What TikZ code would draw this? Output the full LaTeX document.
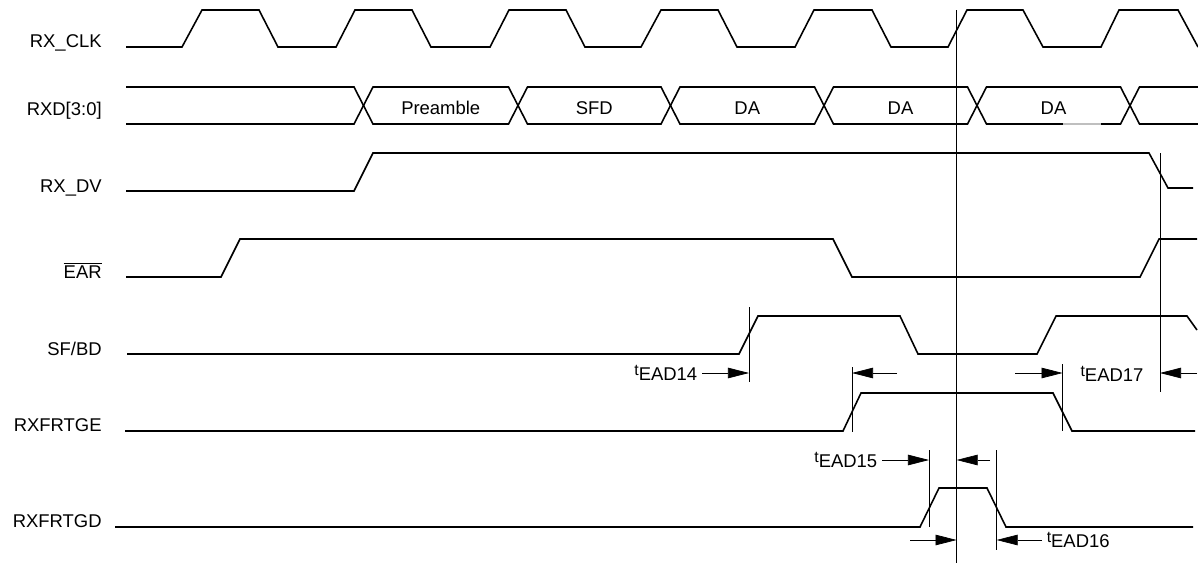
\documentclass[tikz,border=0pt]{standalone}
\usepackage{fontspec}
\setmainfont{Liberation Sans}
\usetikzlibrary{arrows.meta}

\newcommand{\tead}[1]{\raisebox{3pt}{\fontsize{9}{10}\selectfont t}EAD#1}

\begin{document}
\begin{tikzpicture}[
    % Define styles for the waveforms and the text
    x=0.02cm, y=-0.02cm,
    signal/.style={line width=0.9pt},
    marker/.style={line width=0.4pt},
    siglabel/.style={anchor=base east, inner sep=0pt, font=\fontsize{10.5}{12}\selectfont},
    buslabel/.style={inner sep=0pt, font=\fontsize{10.5}{12}\selectfont},
    timelabel/.style={inner sep=2.5pt, font=\fontsize{10.5}{12}\selectfont},
    arrow/.style={-{Triangle[length=12pt, width=6pt]}, line width=0.4pt}
]
    \useasboundingbox (0,0) rectangle (1198,565);

    % Signal names
    \node[siglabel] (clk) at (102,47) {RX\_CLK};
    \node[siglabel] (rxd) at (102,115) {RXD[3:0]};
    \node[siglabel] (dv) at (102,192) {RX\_DV};
    \node[siglabel] (ear) at (102,278) {$\overline{\mbox{EAR}}$};
    \node[siglabel] (sfbd) at (102,355) {SF/BD};
    \node[siglabel] (ge) at (102,431) {RXFRTGE};
    \node[siglabel] (gd) at (102,527) {RXFRTGD};

    % Waveforms
    \draw[signal] (126,47) -- (182,47) -- (202,10) -- (259,10) -- (278,47) -- (336,47) -- (355,10) -- (412,10) -- (431,47)
        -- (490,47) -- (509,10) -- (566,10) -- (585,47) -- (641,47) -- (661,10) -- (718,10) -- (737,47) -- (795,47)
        -- (814,10) -- (872,10) -- (891,47) -- (948,47) -- (967,10) -- (1023,10) -- (1043,47) -- (1101,47) -- (1119,10)
        -- (1178,10) -- (1198,47);

    \draw[signal] (126,87) -- (354,87) -- (373,124) -- (508.5,124) -- (527.5,87) -- (661,87) -- (680,124) -- (814.5,124)
        -- (833.5,87) -- (967.5,87) -- (986.5,124) -- (1120.5,124) -- (1139.5,87) -- (1198,87);
    \draw[signal] (126,124) -- (354,124) -- (373,87) -- (508.5,87) -- (527.5,124) -- (661,124) -- (680,87) -- (814.5,87)
        -- (833.5,124) -- (967.5,124) -- (986.5,87) -- (1120.5,87) -- (1139.5,124) -- (1198,124);
    \draw[line width=1.6pt] (1063,87) -- (1101,87);
    \draw[signal, gray!50] (1063,124) -- (1101,124);

    \node[buslabel] (pre) at (440.75,108) {Preamble};
    \node[buslabel] (sfd) at (594.25,108) {SFD};
    \node[buslabel] (da1) at (747.25,108) {DA};
    \node[buslabel] (da2) at (900.5,108) {DA};
    \node[buslabel] (da3) at (1053.5,108) {DA};

    \draw[signal] (126,191) -- (354,191) -- (373,153) -- (1149,153) -- (1168,188) -- (1193,188);

    \draw[signal] (126,277) -- (221,277) -- (240,239) -- (833,239) -- (852,277) -- (1140,277) -- (1159,239) -- (1197,239);

    \draw[signal] (127,354) -- (739,354) -- (758,316) -- (900,316) -- (918,354) -- (1037,354) -- (1056,316) -- (1187,316)
        -- (1197,330);

    \draw[signal] (125,431) -- (843,431) -- (861,393) -- (1053,393) -- (1072,431) -- (1195,431);

    \draw[signal] (115,527) -- (920,527) -- (939,488) -- (987,488) -- (1006,527) -- (1193,527);

    % Timing markers
    \draw[marker] (956.6,10) -- (956.6,563);
    \draw[marker] (1160,153) -- (1160,392);
    \draw[marker] (749,307) -- (749,382);
    \draw[marker] (852,367) -- (852,432);
    \draw[marker] (1062.6,364) -- (1062.6,431);
    \draw[marker] (929,450) -- (929,527);
    \draw[marker] (996.6,450) -- (996.6,550);

    \coordinate (sf_rise) at (749,373);
    \coordinate (ge_rise) at (852,373);
    \coordinate (ge_rise_end) at (897,373);
    \coordinate (ge_fall) at (1062.6,373);
    \coordinate (ge_fall_end) at (1015,373);
    \coordinate (dv_fall) at (1160,373);
    \coordinate (dv_fall_end) at (1197,373);
    \coordinate (gd_rise) at (929,460);
    \coordinate (clk_top) at (956.6,460);
    \coordinate (clk_top_end) at (990,460);
    \coordinate (clk_bot) at (956.6,540);
    \coordinate (clk_bot_end) at (910,540);
    \coordinate (gd_fall) at (996.6,540);

    % Timing labels and arrows
    \node[timelabel, anchor=east] (t14) at (702,373) {\tead{14}};
    \node[timelabel] (t17) at (1112,374) {\tead{17}};
    \node[timelabel, anchor=east] (t15) at (882,460) {\tead{15}};
    \node[timelabel, anchor=west] (t16) at (1042,540) {\tead{16}};

    \draw[arrow] (t14.east) -- (sf_rise);
    \draw[arrow] (ge_rise_end) -- (ge_rise);
    \draw[arrow] (ge_fall_end) -- (ge_fall);
    \draw[arrow] (dv_fall_end) -- (dv_fall);
    \draw[arrow] (t15.east) -- (gd_rise);
    \draw[arrow] (clk_top_end) -- (clk_top);
    \draw[arrow] (clk_bot_end) -- (clk_bot);
    \draw[arrow] (t16.west) -- (gd_fall);
\end{tikzpicture}
\end{document}
